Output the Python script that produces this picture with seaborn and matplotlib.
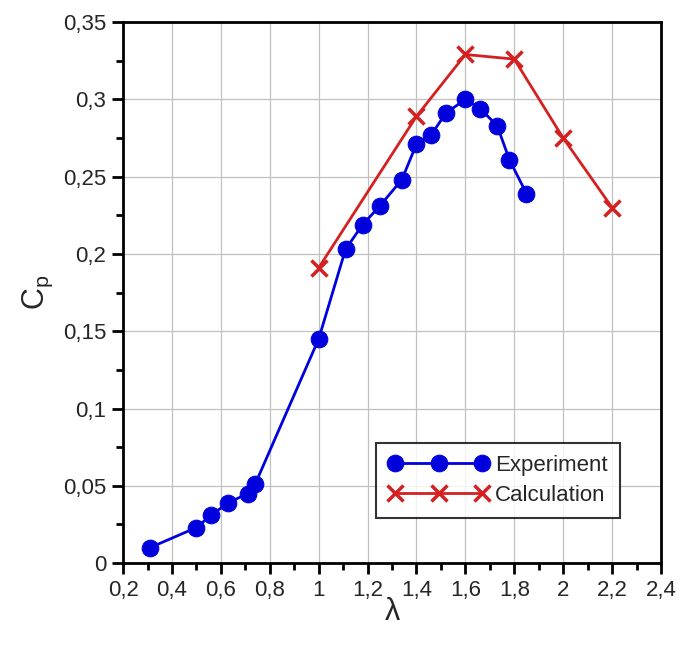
import matplotlib
matplotlib.use('Agg')
import matplotlib.pyplot as plt
import seaborn as sns
from matplotlib.ticker import MultipleLocator, FuncFormatter

# Experiment data
lambda_exp = [0.31, 0.50, 0.56, 0.63, 0.71, 0.74, 1.00, 1.11, 1.18, 1.25, 1.34,
              1.40, 1.46, 1.52, 1.60, 1.66, 1.73, 1.78, 1.85]
cp_exp = [0.010, 0.023, 0.031, 0.039, 0.045, 0.051, 0.145, 0.203, 0.219, 0.231, 0.248,
          0.271, 0.277, 0.291, 0.300, 0.294, 0.283, 0.261, 0.239]

# Calculation data
lambda_calc = [1.0, 1.4, 1.6, 1.8, 2.0, 2.2]
cp_calc = [0.191, 0.289, 0.329, 0.326, 0.275, 0.230]

sns.set_style('white')
plt.rcParams['font.family'] = ['Liberation Sans', 'DejaVu Sans']

fig = plt.figure(figsize=(6.8, 6.48), dpi=100)
ax = fig.add_axes([0.181, 0.131, 0.791, 0.835])

sns.lineplot(x=lambda_exp, y=cp_exp, ax=ax, color='#0000dd', linewidth=2,
             marker='o', markersize=12, markeredgecolor='#0000dd', label='Experiment')
sns.lineplot(x=lambda_calc, y=cp_calc, ax=ax, color='#d42020', linewidth=2,
             marker='x', markersize=11, markeredgewidth=2.5, markeredgecolor='#d42020',
             label='Calculation')

ax.set_xlim(0.2, 2.4)
ax.set_ylim(0, 0.35)
ax.xaxis.set_major_locator(MultipleLocator(0.2))
ax.xaxis.set_minor_locator(MultipleLocator(0.1))
ax.yaxis.set_major_locator(MultipleLocator(0.05))
ax.yaxis.set_minor_locator(MultipleLocator(0.025))

comma = FuncFormatter(lambda v, p: ('%g' % round(v, 3)).replace('.', ','))
ax.xaxis.set_major_formatter(comma)
ax.yaxis.set_major_formatter(comma)

ax.grid(True, which='major', color='#c0c0c0', linewidth=0.9)
ax.set_axisbelow(True)
for s in ax.spines.values():
    s.set_color('black')
    s.set_linewidth(2)
ax.tick_params(which='major', direction='out', length=8, width=2, labelsize=16,
               bottom=True, left=True, color='black', pad=4)
ax.tick_params(which='minor', direction='out', length=5, width=2,
               bottom=True, left=True, color='black')

ax.set_xlabel('λ', fontsize=22, labelpad=-3)
ax.set_ylabel(r'C$_\mathregular{p}$', fontsize=22, labelpad=6)

leg = ax.legend(loc='lower right', bbox_to_anchor=(0.924, 0.083), borderaxespad=0,
                numpoints=3, handlelength=4.5, fontsize=16, frameon=True, fancybox=False,
                borderpad=0.55, handletextpad=0.3, labelspacing=0.4)
leg.get_frame().set_edgecolor('black')
leg.get_frame().set_linewidth(1.5)

fig.savefig('out.png', dpi=100)
